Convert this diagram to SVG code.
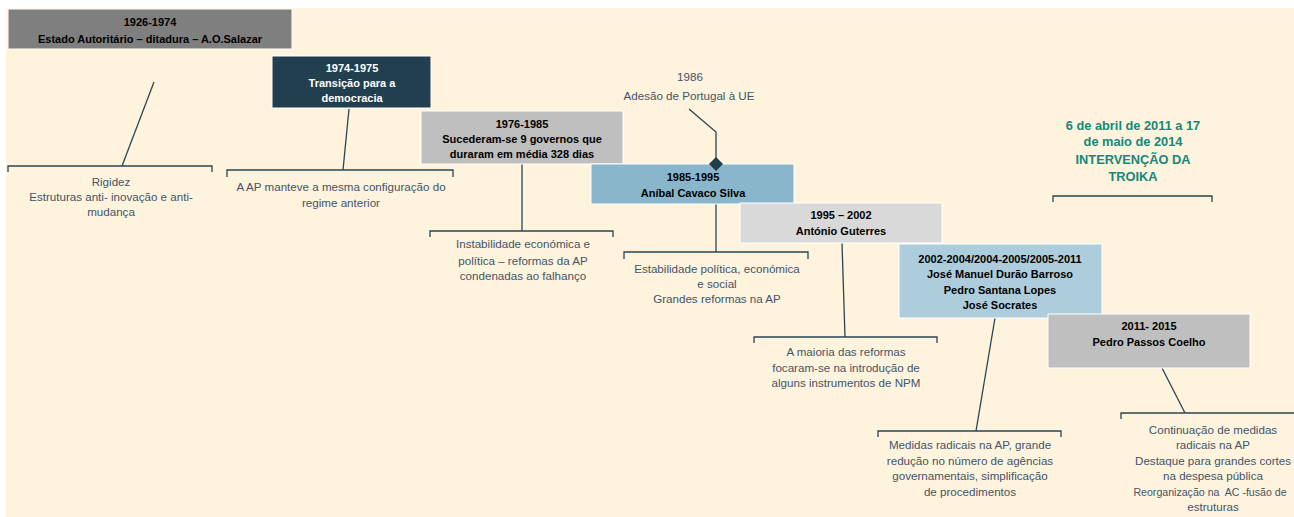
<svg xmlns="http://www.w3.org/2000/svg" width="1294" height="517" viewBox="0 0 1294 517">
  <style>
    .box { stroke: #ffffff; stroke-width: 1; }
    .hd { font-family: "Liberation Sans", Arial, sans-serif; font-size: 11px; font-weight: bold; fill: #000000; text-anchor: middle; }
    .hdw { fill: #ffffff; }
    .note { font-family: "Liberation Sans", Arial, sans-serif; font-size: 11.6px; fill: #44546a; text-anchor: middle; }
    .troika { font-family: "Liberation Sans", Arial, sans-serif; font-size: 12.8px; font-weight: bold; fill: #16877a; text-anchor: middle; }
    .ln { fill: none; stroke: #2b4553; stroke-width: 1.3; }
  </style>

  <!-- page -->
  <rect x="0" y="0" width="1294" height="517" fill="#ffffff"/>
  <rect x="6" y="8" width="1288" height="509" fill="#fef3dc"/>

  <!-- connectors: stems and brackets -->
  <g id="connectors">
    <path class="ln" d="M154,82 L122,166"/>
    <path class="ln" d="M8,172 V166 H212 V172"/>

    <path class="ln" d="M349,109 L343,170"/>
    <path class="ln" d="M227,177 V170 H453 V177"/>

    <path class="ln" d="M522,164 V231"/>
    <path class="ln" d="M430,237 V231 H613 V237"/>

    <path class="ln" d="M689,109 L716,132 V160"/>
    <path class="ln" d="M716,204 V252"/>
    <path class="ln" d="M624,259 V252 H808 V259"/>

    <path class="ln" d="M842,243 L845,337"/>
    <path class="ln" d="M754,343 V337 H937 V343"/>

    <path class="ln" d="M995,318 L976,431"/>
    <path class="ln" d="M878,437 V431 H1061 V437"/>

    <path class="ln" d="M1162,368 L1185,413"/>
    <path class="ln" d="M1121,419 V413 H1300"/>

    <path class="ln" d="M1053,202 V196 H1212 V202"/>
  </g>

  <g id="n1926">
    <rect class="box" x="8" y="9" width="284" height="40" fill="#7f7f7f"/>
    <text class="hd" x="150" y="26">1926-1974</text>
    <text class="hd" x="150" y="43">Estado Autoritário – ditadura – A.O.Salazar</text>
  </g>
  <g id="n1926-note">
    <text class="note" x="111" y="186">Rigidez</text>
    <text class="note" x="111" y="201">Estruturas anti- inovação e anti-</text>
    <text class="note" x="111" y="216">mudança</text>
  </g>

  <g id="n1974">
    <rect class="box" x="272" y="56" width="159" height="52" fill="#213f4e"/>
    <text class="hd hdw" x="352" y="72">1974-1975</text>
    <text class="hd hdw" x="352" y="87">Transição para a</text>
    <text class="hd hdw" x="352" y="102">democracia</text>
  </g>
  <g id="n1974-note">
    <text class="note" x="341" y="191">A AP manteve a mesma configuração do</text>
    <text class="note" x="341" y="207">regime anterior</text>
  </g>

  <g id="n1976">
    <rect class="box" x="421" y="111" width="202" height="53" fill="#bfbfbf"/>
    <text class="hd" x="522" y="128">1976-1985</text>
    <text class="hd" x="522" y="143">Sucederam-se 9 governos que</text>
    <text class="hd" x="522" y="158">duraram em média 328 dias</text>
  </g>
  <g id="n1976-note">
    <text class="note" x="523" y="248">Instabilidade económica e</text>
    <text class="note" x="523" y="265">política – reformas da AP</text>
    <text class="note" x="523" y="280">condenadas ao falhanço</text>
  </g>

  <g id="n1986">
    <text class="note" x="690" y="81">1986</text>
    <text class="note" x="689" y="100">Adesão de Portugal à UE</text>
  </g>

  <g id="n1985">
    <rect class="box" x="591" y="164" width="203" height="40" fill="#89b6cb"/>
    <text class="hd" x="693" y="181">1985-1995</text>
    <text class="hd" x="693" y="197">Aníbal Cavaco Silva</text>
    <path d="M716,157 L723,164 L716,171 L709,164 Z" fill="#1f3d4c"/>
  </g>
  <g id="n1985-note">
    <text class="note" x="717" y="273">Estabilidade política, económica</text>
    <text class="note" x="717" y="288">e social</text>
    <text class="note" x="717" y="303">Grandes reformas na AP</text>
  </g>

  <g id="n1995">
    <rect class="box" x="740" y="203" width="202" height="40" fill="#d9d9d9"/>
    <text class="hd" x="841" y="219">1995 – 2002</text>
    <text class="hd" x="841" y="235">António Guterres</text>
  </g>
  <g id="n1995-note">
    <text class="note" x="846" y="356">A maioria das reformas</text>
    <text class="note" x="846" y="372">focaram-se na introdução de</text>
    <text class="note" x="846" y="387">alguns instrumentos de NPM</text>
  </g>

  <g id="n2002">
    <rect class="box" x="899" y="244" width="203" height="74" fill="#adcddd"/>
    <text class="hd" x="1000" y="263">2002-2004/2004-2005/2005-2011</text>
    <text class="hd" x="1000" y="278">José Manuel Durão Barroso</text>
    <text class="hd" x="1000" y="294">Pedro Santana Lopes</text>
    <text class="hd" x="1000" y="309">José Socrates</text>
  </g>
  <g id="n2002-note">
    <text class="note" x="970" y="449">Medidas radicais na AP, grande</text>
    <text class="note" x="970" y="465">redução no número de agências</text>
    <text class="note" x="970" y="480">governamentais, simplificação</text>
    <text class="note" x="970" y="496">de procedimentos</text>
  </g>

  <g id="n2011">
    <rect class="box" x="1048" y="314" width="202" height="54" fill="#bfbfbf"/>
    <text class="hd" x="1149" y="330">2011- 2015</text>
    <text class="hd" x="1149" y="346">Pedro Passos Coelho</text>
  </g>
  <g id="n2011-note">
    <text class="note" x="1213" y="434">Continuação de medidas</text>
    <text class="note" x="1213" y="449">radicais na AP</text>
    <text class="note" x="1213" y="465">Destaque para grandes cortes</text>
    <text class="note" x="1213" y="480">na despesa pública</text>
    <text class="note" x="1210" y="496" style="font-size:10.6px" xml:space="preserve">Reorganização na  AC -fusão de</text>
    <text class="note" x="1213" y="511">estruturas</text>
  </g>

  <g id="troika">
    <text class="troika" x="1133" y="130">6 de abril de 2011 a 17</text>
    <text class="troika" x="1133" y="146">de maio de 2014</text>
    <text class="troika" x="1133" y="164">INTERVENÇÃO DA</text>
    <text class="troika" x="1133" y="181">TROIKA</text>
  </g>
</svg>
